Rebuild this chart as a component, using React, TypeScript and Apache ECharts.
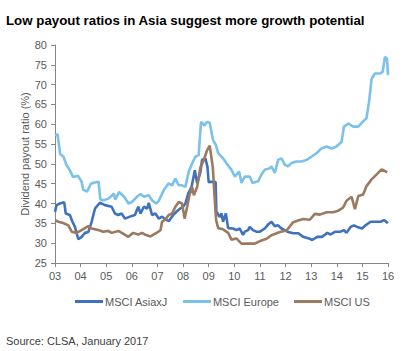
import React, { useEffect, useRef } from "react";
import * as echarts from "echarts";

const yearLabels = ["03", "04", "05", "06", "07", "08", "09", "10", "11", "12", "13", "14", "15", "16"];
const seriesNames = ["MSCI AsiaxJ", "MSCI Europe", "MSCI US"];

const asiaxj: [number, number][] = [
  [2003.0, 37.9], [2003.06, 39.6], [2003.19, 40], [2003.36, 40.3], [2003.42, 37.5], [2003.58, 37.1], [2003.68, 35.4],
  [2003.78, 34.1], [2003.91, 31], [2004.04, 31.6], [2004.17, 32.6], [2004.3, 32.8], [2004.43, 35.4], [2004.56, 38.7],
  [2004.75, 40.2], [2004.95, 39.6], [2005.21, 39.2], [2005.34, 37.5], [2005.47, 37.1], [2005.6, 37.5], [2005.73, 36.2],
  [2005.92, 36.7], [2006.12, 37.1], [2006.25, 39.2], [2006.34, 37.5], [2006.47, 39.2], [2006.6, 38.7], [2006.66, 40.2],
  [2006.79, 37.1], [2006.92, 37.5], [2007.05, 36.2], [2007.18, 36.7], [2007.3, 36], [2007.45, 35.6], [2007.6, 37],
  [2007.75, 38], [2007.9, 38.8], [2008.0, 39.2], [2008.09, 40], [2008.2, 42.5], [2008.33, 44.2], [2008.46, 48.4],
  [2008.55, 45.1], [2008.68, 48], [2008.74, 51], [2008.87, 51.4], [2008.95, 49.3], [2009.0, 45.4], [2009.15, 45.5],
  [2009.27, 45.4], [2009.3, 38], [2009.43, 36.6], [2009.5, 37.5], [2009.56, 35.4], [2009.67, 37.5], [2009.76, 33.8],
  [2009.95, 33.7], [2010.08, 33.3], [2010.21, 33.7], [2010.34, 32.1], [2010.41, 32.9], [2010.54, 33.3], [2010.6, 34.1],
  [2010.73, 33.3], [2010.86, 32.9], [2011.0, 32.9], [2011.19, 33.7], [2011.32, 34.7], [2011.45, 35.4], [2011.58, 34.3],
  [2011.71, 34.5], [2011.84, 33.7], [2011.97, 33.3], [2012.1, 32.8], [2012.3, 32.5], [2012.5, 32.5], [2012.69, 31.6],
  [2012.91, 31.2], [2013.04, 30.8], [2013.24, 31.6], [2013.43, 31.6], [2013.63, 32.6], [2013.76, 32.2], [2013.95, 32.9],
  [2014.15, 32.9], [2014.28, 33.3], [2014.38, 32.6], [2014.54, 34.1], [2014.67, 34.5], [2014.8, 34.1], [2014.99, 33.7],
  [2015.12, 34.5], [2015.32, 35.4], [2015.51, 35.4], [2015.71, 35.4], [2015.84, 35.8], [2015.94, 35.4], [2015.99, 35],
];

const europe: [number, number][] = [
  [2003.0, 57.2], [2003.1, 57.5], [2003.2, 52.5], [2003.33, 51.8], [2003.45, 49.7], [2003.58, 48.4], [2003.7, 46.7],
  [2003.9, 47], [2004.04, 45.5], [2004.1, 43.5], [2004.25, 43], [2004.4, 45], [2004.55, 45.3], [2004.7, 45.5],
  [2004.77, 41], [2004.9, 40.8], [2005.1, 41.3], [2005.3, 42.5], [2005.35, 41], [2005.5, 42.9], [2005.7, 41.7],
  [2005.87, 40], [2006.0, 40.4], [2006.2, 41.7], [2006.34, 42.4], [2006.47, 41.7], [2006.66, 42.1], [2006.79, 40.8],
  [2006.95, 40], [2007.05, 40.7], [2007.25, 43.4], [2007.44, 45.1], [2007.57, 44.6], [2007.7, 46.3], [2007.83, 44.6],
  [2007.96, 44.6], [2008.09, 44.2], [2008.22, 48], [2008.35, 50.1], [2008.48, 51.8], [2008.61, 52.2], [2008.7, 60.6],
  [2008.84, 59.7], [2008.93, 60.6], [2009.04, 60.4], [2009.17, 56], [2009.28, 54.8], [2009.37, 52.7], [2009.56, 51.4],
  [2009.69, 50.2], [2009.89, 48.5], [2010.02, 46.8], [2010.19, 48.1], [2010.28, 45.2], [2010.41, 46.8], [2010.6, 46.8],
  [2010.71, 45.2], [2010.93, 45.6], [2011.06, 47.3], [2011.19, 48.5], [2011.39, 48.9], [2011.45, 49.4], [2011.58, 47.7],
  [2011.71, 51], [2011.84, 51.4], [2011.97, 49.8], [2012.1, 49.4], [2012.23, 50.2], [2012.43, 50.6], [2012.62, 50.6],
  [2012.82, 51], [2013.01, 51.8], [2013.21, 52.7], [2013.4, 53.9], [2013.6, 54.4], [2013.8, 53.9], [2013.99, 54.4],
  [2014.19, 55.6], [2014.28, 59.4], [2014.45, 60.2], [2014.64, 59.4], [2014.84, 59.4], [2015.01, 60.6], [2015.16, 61.5],
  [2015.27, 66.1], [2015.36, 71.5], [2015.49, 72.8], [2015.68, 72.8], [2015.79, 73.2], [2015.88, 77], [2015.96, 76.6],
  [2016.0, 72.4],
];

const us: [number, number][] = [
  [2003.0, 35.8], [2003.13, 35.4], [2003.32, 35.1], [2003.52, 34.5], [2003.65, 32.9], [2003.84, 32.6], [2004.04, 33.3],
  [2004.3, 34.3], [2004.43, 33.7], [2004.69, 33.3], [2004.88, 32.9], [2005.08, 33.1], [2005.21, 32.6], [2005.47, 33.1],
  [2005.66, 32.4], [2005.86, 31.6], [2006.05, 32.6], [2006.25, 32.2], [2006.4, 32.6], [2006.53, 32.1], [2006.73, 31.7],
  [2006.86, 32.2], [2006.99, 32.7], [2007.12, 33.3], [2007.18, 35.4], [2007.31, 36], [2007.44, 37.1], [2007.57, 37.5],
  [2007.7, 39.2], [2007.83, 40.4], [2007.96, 40], [2008.06, 36.2], [2008.16, 39.2], [2008.25, 42.1], [2008.35, 44.2],
  [2008.42, 42.1], [2008.55, 44.2], [2008.68, 49.2], [2008.81, 51], [2008.94, 53.5], [2009.04, 54.6], [2009.16, 49.2],
  [2009.23, 41.7], [2009.29, 35.8], [2009.37, 33.8], [2009.56, 33.5], [2009.76, 32.6], [2009.89, 30.9], [2010.08, 31.2],
  [2010.28, 29.9], [2010.6, 29.9], [2010.8, 29.9], [2010.93, 30.3], [2011.06, 30.7], [2011.26, 31.1], [2011.45, 32],
  [2011.78, 32.8], [2012.04, 33.2], [2012.3, 35.3], [2012.49, 35.7], [2012.69, 36.1], [2012.95, 35.9], [2013.14, 37.4],
  [2013.34, 37.2], [2013.6, 37.8], [2013.86, 37.8], [2014.06, 38.2], [2014.25, 39], [2014.38, 40.7], [2014.58, 41.7],
  [2014.71, 38.6], [2014.84, 41.9], [2015.03, 42.3], [2015.16, 44.4], [2015.36, 46.1], [2015.55, 47.3], [2015.75, 48.6],
  [2015.88, 48.2], [2015.97, 47.9],
];

const colors = ["#3F72BE", "#7CC1E9", "#9B7A61"];
const FONT = "'Liberation Sans', Arial, sans-serif";

export default function App() {
  const ref = useRef<HTMLDivElement>(null);
  useEffect(() => {
    if (!ref.current) return;
    const chart = echarts.init(ref.current, undefined, { renderer: "svg" });
    const datasets = [asiaxj, europe, us];
    chart.setOption({
      animation: false,
      textStyle: { fontFamily: FONT },
      title: {
        text: "Low payout ratios in Asia suggest more growth potential",
        left: 1,
        top: 9,
        textStyle: { fontSize: 13.3, fontWeight: "bold", color: "#000", fontFamily: FONT },
      },
      graphic: [
        {
          type: "text",
          left: 6,
          top: 335,
          style: { text: "Source: CLSA, January 2017", fontSize: 11, fill: "#404040", fontFamily: FONT },
        },
      ],
      legend: {
        left: 70,
        top: 291,
        itemWidth: 28,
        itemHeight: 3,
        itemGap: 15,
        icon: "rect",
        data: seriesNames,
        textStyle: { fontSize: 11, color: "#595959", fontFamily: FONT, padding: [0, 0, 0, -3] },
      },
      grid: { left: 55, right: 20, top: 45, bottom: 88, containLabel: false },
      xAxis: {
        type: "value",
        min: 2003,
        max: 2016,
        interval: 1,
        splitLine: { show: false },
        axisLine: { lineStyle: { color: "#868686" } },
        axisTick: { show: true, length: 4, lineStyle: { color: "#868686" } },
        axisLabel: {
          fontSize: 11,
          color: "#595959",
          margin: 7,
          fontFamily: FONT,
          formatter: (v: number) => yearLabels[Math.round(v - 2003)] ?? "",
        },
      },
      yAxis: {
        type: "value",
        min: 25,
        max: 80,
        interval: 5,
        name: "Dividend payout ratio (%)",
        nameLocation: "middle",
        nameGap: 25,
        nameMoveOverlap: false,
        nameTextStyle: { fontSize: 11, color: "#595959", fontFamily: FONT },
        splitLine: { show: false },
        axisLine: { show: true, lineStyle: { color: "#868686" } },
        axisTick: { show: true, length: 4, lineStyle: { color: "#868686" } },
        axisLabel: { fontSize: 11, color: "#595959", margin: 8, fontFamily: FONT },
      },
      series: seriesNames.map((name, i) => ({
        name,
        type: "line",
        data: datasets[i],
        showSymbol: false,
        symbol: "none",
        lineStyle: { width: 2.6, color: colors[i] },
        itemStyle: { color: colors[i] },
        z: i === 0 ? 3 : i === 1 ? 2 : 4,
      })),
    });
    return () => chart.dispose();
  }, []);
  return <div ref={ref} style={{ position: "absolute", left: 0, top: 0, width: 408, height: 351 }} />;
}
